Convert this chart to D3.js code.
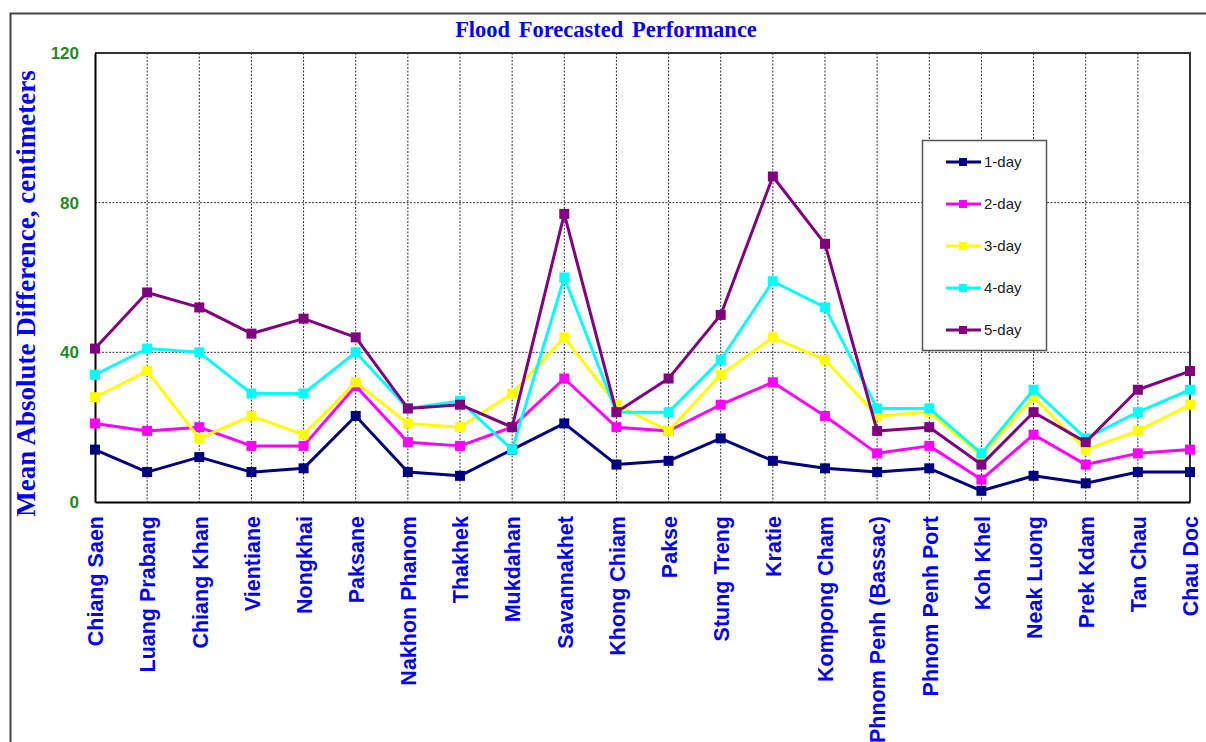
<!DOCTYPE html>
<html>
<head>
<meta charset="utf-8">
<script src="https://cdn.jsdelivr.net/npm/d3@7"></script>
<style>
  html, body { margin: 0; padding: 0; background: #fff; }
  svg { display: block; }
</style>
</head>
<body>
<svg id="chart" width="1206" height="742"></svg>
<script>
const categories = ["Chiang Saen", "Luang Prabang", "Chiang Khan", "Vientiane", "Nongkhai", "Paksane",
  "Nakhon Phanom", "Thakhek", "Mukdahan", "Savannakhet", "Khong Chiam", "Pakse", "Stung Treng",
  "Kratie", "Kompong Cham", "Phnom Penh (Bassac)", "Phnom Penh Port", "Koh Khel", "Neak Luong",
  "Prek Kdam", "Tan Chau", "Chau Doc"];

const day1 = [14, 8, 12, 8, 9, 23, 8, 7, 14, 21, 10, 11, 17, 11, 9, 8, 9, 3, 7, 5, 8, 8];
const day2 = [21, 19, 20, 15, 15, 31, 16, 15, 20, 33, 20, 19, 26, 32, 23, 13, 15, 6, 18, 10, 13, 14];
const day3 = [28, 35, 17, 23, 18, 32, 21, 20, 29, 44, 26, 19, 34, 44, 38, 23, 24, 12.5, 28, 14, 19, 26];
const day4 = [34, 41, 40, 29, 29, 40, 25, 27, 14, 60, 24, 24, 38, 59, 52, 25, 25, 13, 30, 17, 24, 30];
const day5 = [41, 56, 52, 45, 49, 44, 25, 26, 20, 77, 24, 33, 50, 87, 69, 19, 20, 10, 24, 16, 30, 35];

const seriesNames = ["1-day", "2-day", "3-day", "4-day", "5-day"];
const seriesColors = ["#000080", "#FF00FF", "#FFFF00", "#00FFFF", "#800080"];
const yTicks = [0, 40, 80, 120];
const titleText = "Flood Forecasted Performance";
const yLabelText = "Mean Absolute Difference, centimeters";

const seriesValues = [day1, day2, day3, day4, day5];
const series = seriesNames.map((name, i) => ({ name, color: seriesColors[i], values: seriesValues[i] }));

const svg = d3.select("#chart");
const plot = { left: 95, right: 1190, top: 53, bottom: 502 };

const x = d3.scalePoint().domain(categories).range([plot.left, plot.right]).padding(0);
const y = d3.scaleLinear().domain([0, 120]).range([plot.bottom, plot.top]);

// outer frame
svg.append("path")
  .attr("d", `M10.5,742 L10.5,13.5 L1206,13.5`)
  .attr("fill", "none").attr("stroke", "#444").attr("stroke-width", 2);

// gridlines vertical
svg.append("g").selectAll("line").data(categories.slice(1, -1)).join("line")
  .attr("x1", d => x(d)).attr("x2", d => x(d))
  .attr("y1", plot.top).attr("y2", plot.bottom)
  .attr("stroke", "#333").attr("stroke-width", 1).attr("stroke-dasharray", "2,1.5");

// gridlines horizontal
svg.append("g").selectAll("line").data(yTicks.filter(t => t > 0 && t < 120)).join("line")
  .attr("x1", plot.left).attr("x2", plot.right)
  .attr("y1", d => y(d)).attr("y2", d => y(d))
  .attr("stroke", "#333").attr("stroke-width", 1).attr("stroke-dasharray", "2,1.5");

// plot border top/right
svg.append("path")
  .attr("d", `M${plot.left},${plot.top} L${plot.right},${plot.top} L${plot.right},${plot.bottom}`)
  .attr("fill", "none").attr("stroke", "#333").attr("stroke-width", 2);

// y axis
const yAxis = d3.axisLeft(y).tickValues(yTicks).tickSize(0).tickPadding(16);
const yg = svg.append("g").attr("transform", `translate(${plot.left},0)`).call(yAxis);
yg.select(".domain").attr("stroke", "#000").attr("stroke-width", 2);
yg.selectAll("text")
  .attr("fill", "#1E8C1E")
  .style("font-family", "'Liberation Sans', Arial, sans-serif")
  .style("font-size", "17px").style("font-weight", "bold");

// x axis
const xAxis = d3.axisBottom(x).tickSize(0).tickPadding(0);
const xg = svg.append("g").attr("transform", `translate(0,${plot.bottom})`).call(xAxis);
xg.select(".domain").attr("stroke", "#000").attr("stroke-width", 2);
xg.selectAll("text")
  .attr("fill", "#0000FF")
  .style("font-family", "'Liberation Sans', Arial, sans-serif")
  .style("font-size", "21.5px").style("font-weight", "bold")
  .attr("text-anchor", "end")
  .attr("transform", "translate(0,14) rotate(-90)")
  .attr("x", 0).attr("y", 0).attr("dy", "0.36em");

// lines
const line = d3.line().x((d, i) => x(categories[i])).y(d => y(d));
const sg = svg.append("g").selectAll("g").data(series).join("g");
sg.append("path")
  .attr("d", d => line(d.values))
  .attr("fill", "none").attr("stroke", d => d.color).attr("stroke-width", 3)
  .attr("stroke-linejoin", "round");
const ms = 10;
sg.each(function(s) {
  d3.select(this).selectAll("rect").data(s.values).join("rect")
    .attr("x", (d, i) => x(categories[i]) - ms / 2)
    .attr("y", d => y(d) - ms / 2)
    .attr("width", ms).attr("height", ms)
    .attr("fill", s.color);
});

// title
svg.append("text")
  .attr("x", 606).attr("y", 37)
  .attr("text-anchor", "middle")
  .attr("fill", "#0000FF")
  .style("font-family", "'Liberation Serif', 'Times New Roman', serif")
  .style("font-size", "22.5px").style("font-weight", "bold")
  .style("word-spacing", "3px")
  .text(titleText);

// y label
svg.append("text")
  .attr("transform", `translate(35,${(70 + 517) / 2}) rotate(-90)`)
  .attr("text-anchor", "middle")
  .attr("fill", "#0000FF")
  .style("font-family", "'Liberation Serif', 'Times New Roman', serif")
  .style("font-size", "27px").style("font-weight", "bold")
  .text(yLabelText);

// legend
const lg = svg.append("g");
lg.append("rect")
  .attr("x", 922.5).attr("y", 140.5).attr("width", 124).attr("height", 210)
  .attr("fill", "#fff").attr("stroke", "#555").attr("stroke-width", 1.5);
const le = lg.selectAll("g.entry").data(series).join("g")
  .attr("transform", (d, i) => `translate(0,${162 + i * 42})`);
le.append("line")
  .attr("x1", 946).attr("x2", 981).attr("y1", 0).attr("y2", 0)
  .attr("stroke", d => d.color).attr("stroke-width", 3);
le.append("rect")
  .attr("x", 959).attr("y", -4).attr("width", 8).attr("height", 8)
  .attr("fill", d => d.color);
le.append("text")
  .attr("x", 984).attr("y", 0).attr("dy", "0.35em")
  .attr("fill", "#222")
  .style("font-family", "'Liberation Sans', Arial, sans-serif")
  .style("font-size", "15px")
  .text(d => d.name);
</script>
</body>
</html>
